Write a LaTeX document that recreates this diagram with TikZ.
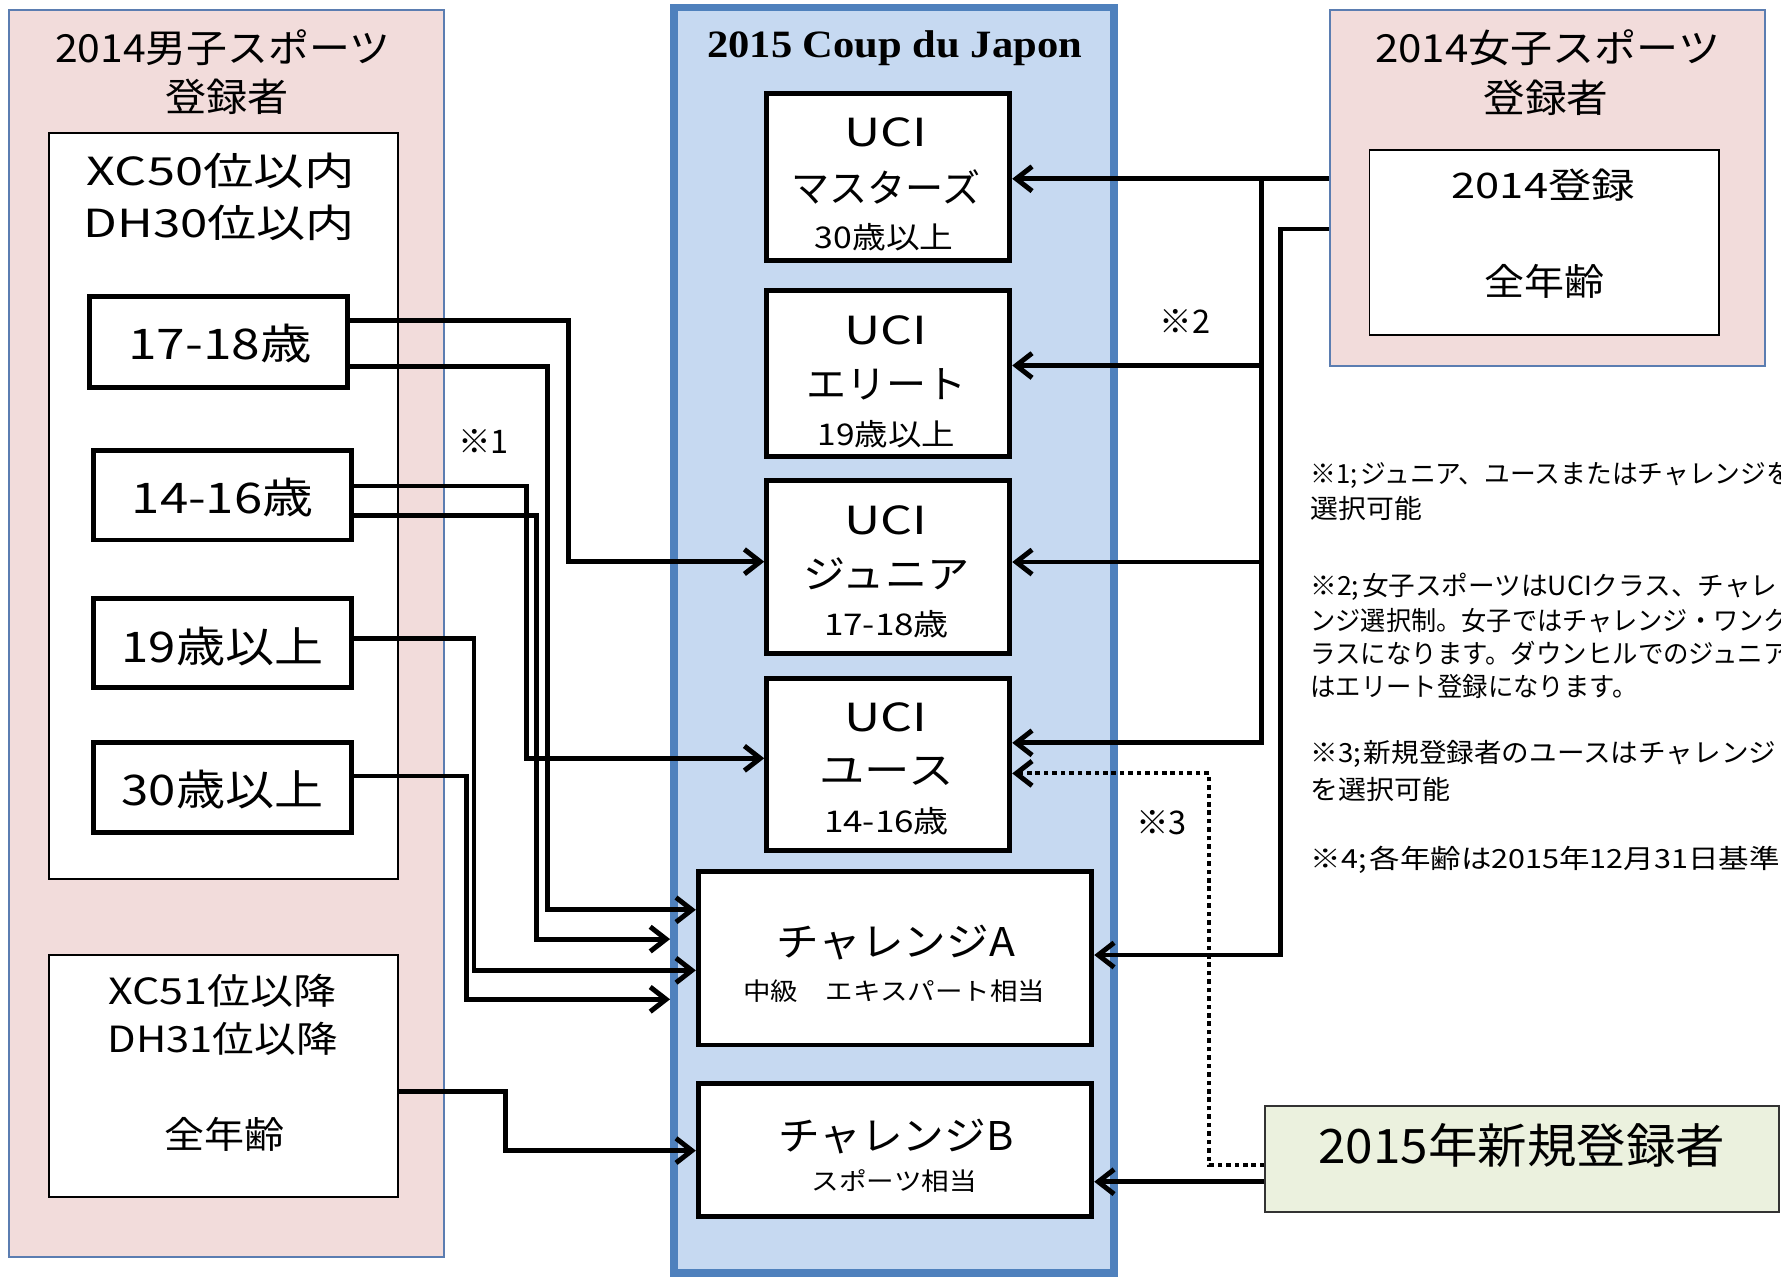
\documentclass[tikz,border=0pt]{standalone}
\usepackage{fontspec}
\setmainfont{Noto Sans CJK JP}
\newfontfamily\tnr{Liberation Serif}
\usepackage{graphicx}
\usetikzlibrary{arrows.meta,fit}
\newdimen\unitpx \unitpx=0.0227cm
\newcommand\fs[1]{\fontsize{#1}{#1}\selectfont}
\newcommand\fw[2]{\resizebox{#1\unitpx}{\height}{#2}}
\definecolor{pinkF}{HTML}{F2DCDB}
\definecolor{pinkB}{HTML}{5B7DB1}
\definecolor{blueF}{HTML}{C6D9F1}
\definecolor{blueB}{HTML}{4F81BD}
\definecolor{greenF}{HTML}{EBF1DE}
\tikzset{
  fbox/.style={rectangle, inner sep=0pt},
  pinkbox/.style={fbox, draw=pinkB, line width=1pt, fill=pinkF},
  thinbox/.style={fbox, draw=black, line width=1pt, fill=white},
  thickbox/.style={fbox, draw=black, line width=2.8pt, fill=white},
  bluebox/.style={fbox, draw=blueB, line width=4.5pt, fill=blueF},
  greenbox/.style={fbox, draw=black!80, line width=1pt, fill=greenF},
  txt/.style={inner sep=0pt, anchor=center},
  note/.style={inner sep=0pt, anchor=west},
  conn/.style={line width=2.8pt, -{Straight Barb[length=9pt,width=14pt]}},
  dconn/.style={line width=2.2pt, dash pattern=on 2.6pt off 2.2pt,
     -{Straight Barb[length=9pt,width=14pt,line width=2.8pt]}},
}
\begin{document}
\begin{tikzpicture}[x=0.0227cm, y=-0.0227cm]
\useasboundingbox (0,0) rectangle (1568,1124);
% ---------- containers
\node[pinkbox, fit={(8.2,8.8)(391.2,1106.4)}] (mbox) {};
\node[pinkbox, fit={(1171,8.8)(1554,322)}] (wbox) {};
\node[bluebox, fit={(593.4,6.6)(980.8,1121)}] (cbox) {};
% ---------- left inner boxes
\node[thinbox, fit={(43.4,116.8)(350.7,774)}] (mtop) {};
\node[thinbox, fit={(43.4,840.8)(350.7,1053.6)}] (mlow) {};
\node[thickbox, fit={(79.2,260.7)(306.3,340.8)}] (a17) {};
\node[thickbox, fit={(82.2,396.8)(309.6,475.4)}] (a14) {};
\node[thickbox, fit={(82.2,527.3)(309.6,605)}] (a19) {};
\node[thickbox, fit={(82.2,654)(309.6,733)}] (a30) {};
% ---------- center boxes
\node[thickbox, fit={(675,82)(889,229.5)}] (mas) {};
\node[thickbox, fit={(675,256)(889,401.5)}] (eli) {};
\node[thickbox, fit={(675,422.7)(889,575)}] (jun) {};
\node[thickbox, fit={(675,597)(889,748.4)}] (you) {};
\node[thickbox, fit={(614.8,767.4)(961.2,920)}] (cha) {};
\node[thickbox, fit={(614.8,953.8)(961.2,1071.2)}] (chb) {};
% ---------- right boxes
\node[thinbox, fit={(1205.6,132)(1513.7,295)}] (wreg) {};
\node[greenbox, fit={(1114,974)(1566,1067)}] (newr) {};

% ---------- texts left
\node[txt] (lt1) at (196,41.7) {\fs{22}\fw{295}{2014男子スポーツ}};
\node[txt] (lt2) at (199.6,85) {\fs{22}\fw{108.6}{登録者}};
\node[txt] (xc50) at (194.4,150.4) {\fs{22}\fw{236}{XC50位以内}};
\node[txt] (dh30) at (193,196.6) {\fs{22}\fw{239}{DH30位以内}};
\node[txt] (ta17) at (193.7,302.3) {\fs{24}\fw{161.5}{17-18歳}};
\node[txt] (ta14) at (196,438.2) {\fs{24}\fw{160}{14-16歳}};
\node[txt] (ta19) at (196,569.5) {\fs{24}\fw{177.6}{19歳以上}};
\node[txt] (ta30) at (196,695.4) {\fs{24}\fw{177.6}{30歳以上}};
\node[txt] (xc51) at (196,872.4) {\fs{20.5}\fw{201}{XC51位以降}};
\node[txt] (dh31) at (196,914.8) {\fs{20.5}\fw{202.6}{DH31位以降}};
\node[txt] (mall) at (198,998.5) {\fs{21}\fw{105.7}{全年齢}};

% ---------- texts center
\node[inner sep=0pt, anchor=base] (ctitle) at (787.6,50.5) {\tnr\bfseries\fs{22}\fw{330}{2015 Coup du Japon}};
\node[txt] (masu) at (780,116.7) {\fs{22}\fw{73}{UCI}};
\node[txt] (masn) at (780,164.3) {\fs{22}\fw{166}{マスターズ}};
\node[txt] (masa) at (778.5,208.4) {\fs{17}\fw{122}{30歳以上}};
\node[txt] (eliu) at (780,290.7) {\fs{22}\fw{73}{UCI}};
\node[txt] (elin) at (780.5,338.3) {\fs{22}\fw{141}{エリート}};
\node[txt] (elia) at (780.5,382.4) {\fs{17}\fw{121}{19歳以上}};
\node[txt] (junu) at (780,457.7) {\fs{22}\fw{73}{UCI}};
\node[txt] (junn) at (780.5,505.3) {\fs{22}\fw{146}{ジュニア}};
\node[txt] (juna) at (780.5,549.4) {\fs{17}\fw{110}{17-18歳}};
\node[txt] (youu) at (780,631.7) {\fs{22}\fw{73}{UCI}};
\node[txt] (youn) at (780.5,679.3) {\fs{22}\fw{118}{ユース}};
\node[txt] (youa) at (780.5,723.4) {\fs{17}\fw{110}{14-16歳}};
\node[txt] (chan) at (788.7,829.8) {\fs{22.5}\fw{210}{チャレンジA}};
\node[txt] (chas) at (787.3,872.4) {\fs{14}\fw{265.6}{中級　エキスパート相当}};
\node[txt] (chbn) at (788.7,1000.8) {\fs{22.5}\fw{207}{チャレンジB}};
\node[txt] (chbs) at (787.3,1039.6) {\fs{14}\fw{145.3}{スポーツ相当}};

% ---------- texts right
\node[txt] (rt1) at (1362.5,41.8) {\fs{22}\fw{303.8}{2014女子スポーツ}};
\node[txt] (rt2) at (1361,85.8) {\fs{22}\fw{110}{登録者}};
\node[txt] (wr1) at (1358.8,163) {\fs{20}\fw{161.5}{2014登録}};
\node[txt] (wr2) at (1360,248) {\fs{21}\fw{105.7}{全年齢}};
\node[txt] (newt) at (1339.7,1008.8) {\fs{27}\fw{358}{2015年新規登録者}};

% ---------- marks
\node[txt] (k1) at (425.5,388.4) {\fs{18.5}※1};
\node[txt] (k2) at (1043.3,282.8) {\fs{18.5}※2};
\node[txt] (k3) at (1022.8,724) {\fs{18.5}※3};

% ---------- notes
\node[note] (n1) at (1153.5,419) {\fs{15}\fw{424}{※1;\kern.1em ジュニア、ユースまたはチャレンジを}};
\node[note] (n2) at (1153.5,448) {\fs{15}\fw{98}{選択可能}};
\node[note] (n3) at (1153.5,517) {\fs{15}\fw{411}{※2;\kern.1em 女子スポーツはUCIクラス、チャレ}};
\node[note] (n4) at (1153.5,546) {\fs{15}\fw{421}{ンジ選択制。女子ではチャレンジ・ワンク}};
\node[note] (n5) at (1153.5,575) {\fs{15}\fw{421}{ラスになります。ダウンヒルでのジュニア}};
\node[note] (n6) at (1153.5,604) {\fs{15}\fw{288}{はエリート登録になります。}};
\node[note] (n7) at (1153.5,664) {\fs{15}\fw{410}{※3;\kern.1em 新規登録者のユースはチャレンジ}};
\node[note] (n8) at (1153.5,695) {\fs{15}\fw{123}{を選択可能}};
\node[note] (n9) at (1153.5,757) {\fs{15}\fw{413}{※4;\kern.1em 各年齢は2015年12月31日基準}};

% ---------- left connectors
\draw[conn] (a17.east |- 0,282.4) -| (500.4,494.5) -- (jun.west |- 0,494.5);
\draw[conn] (a17.east |- 0,322.8) -| (481.9,801) -- (cha.west |- 0,801);
\draw[conn] (a14.east |- 0,427.9) -| (463.7,667.6) -- (you.west |- 0,667.6);
\draw[conn] (a14.east |- 0,454.2) -| (472.5,826.8) -- (cbox.west |- 0,826.8);
\draw[conn] (a19.east |- 0,562) -| (417.3,854.3) -- (cha.west |- 0,854.3);
\draw[conn] (a30.east |- 0,683.2) -| (410.3,879.8) -- (cbox.west |- 0,879.8);
\draw[conn] (mlow.east |- 0,961) -| (445,1013) -- (chb.west |- 0,1013);

% ---------- right connectors
\coordinate (bus) at (1110.8,157.4);
\draw[conn] (wbox.west |- bus) -- (mas.east |- bus);
\draw[conn] (bus) |- (you.east |- 0,654);
\draw[conn] (bus |- 0,321.8) -- (eli.east |- 0,321.8);
\draw[conn] (bus |- 0,494.8) -- (jun.east |- 0,494.8);
\draw[conn] (wbox.west |- 0,201.6) -| (1127,840.8) -- (cha.east |- 0,840.8);
\draw[conn] (newr.west |- 0,1040.4) -- (chb.east |- 0,1040.4);
\draw[dconn] (newr.west |- 0,1025.7) -| (1064.7,680.9) -- (you.east |- 0,680.9);
\end{tikzpicture}
\end{document}
